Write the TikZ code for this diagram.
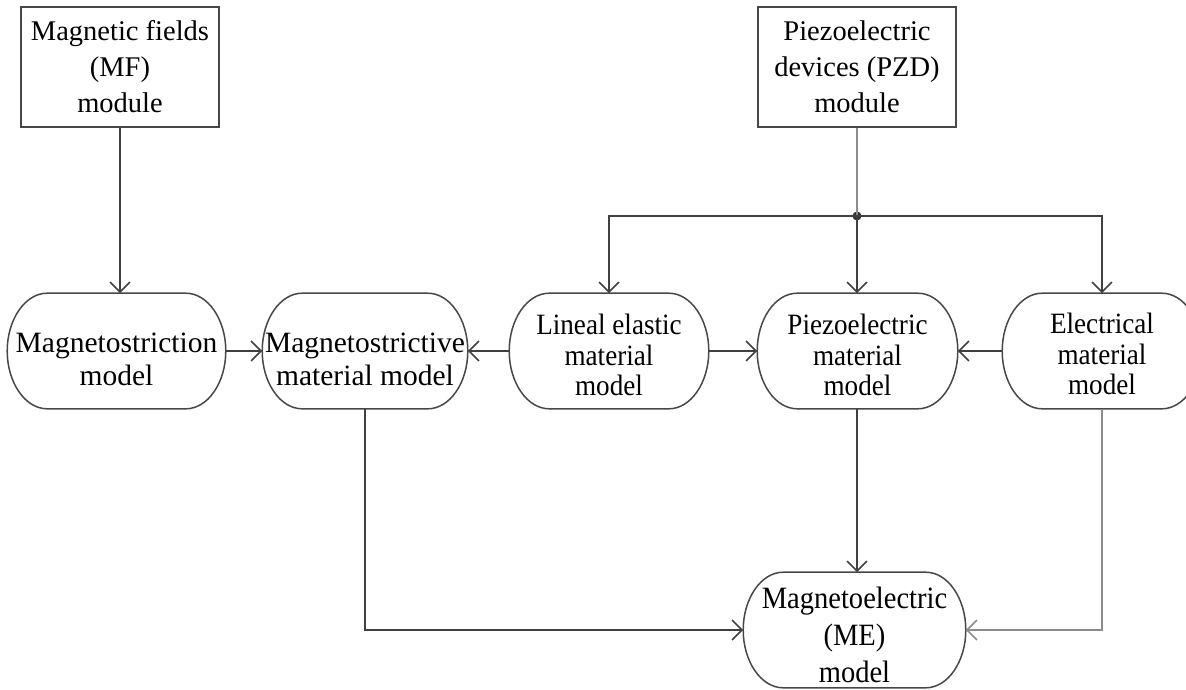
\documentclass[tikz,border=0pt]{standalone}
\usepackage{fontspec}
\setmainfont{Liberation Serif}
\newfontfamily\narrowserif[FakeStretch=0.92]{Liberation Serif}
\usetikzlibrary{arrows.meta}
% text block lowered by #1 without changing its claimed size
\newcommand\lowtext[2]{\raisebox{-#1}[\height][\depth]{\begin{tabular}{@{}c@{}}#2\end{tabular}}}
% elliptical-ended outline around a named node (x radius 40pt, y radius 57pt)
\newcommand\stadiumoutline[1]{%
  \draw[shapeline]
    ([xshift=40pt]#1.north west) -- ([xshift=-40pt]#1.north east)
    .. controls ([xshift=-17.9pt]#1.north east) and ([yshift=31.5pt]#1.east) .. (#1.east)
    .. controls ([yshift=-31.5pt]#1.east) and ([xshift=-17.9pt]#1.south east) .. ([xshift=-40pt]#1.south east)
    -- ([xshift=40pt]#1.south west)
    .. controls ([xshift=17.9pt]#1.south west) and ([yshift=-31.5pt]#1.west) .. (#1.west)
    .. controls ([yshift=31.5pt]#1.west) and ([xshift=17.9pt]#1.north west) .. ([xshift=40pt]#1.north west)
    -- cycle;}
\begin{document}
\begin{tikzpicture}[x=1pt,y=-1pt,
  line width=1.6pt,
  shapeline/.style={draw=black!72, line width=1.5pt},
  boxnode/.style={draw=black!72, rectangle, minimum width=198pt, minimum height=120pt,
    align=center, inner sep=0pt, font=\fontsize{28.5}{36}\selectfont},
  modelnode/.style={draw=none, rectangle, minimum height=114pt,
    inner sep=0pt, font=\fontsize{29.5}{33}\selectfont},
  narrownode/.style={modelnode, font=\narrowserif\fontsize{29.5}{30.5}\selectfont},
  conn/.style={draw=black!75, -{Straight Barb[length=10pt,width=20pt]}},
  lightline/.style={draw=black!45}
]
\clip (0,0) rectangle (1186,689);
\fill[white] (0,0) rectangle (1186,689);

% top boxes
\node[boxnode] (MF) at (120,67) {Magnetic fields\\(MF)\\module};
\node[boxnode] (PZD) at (857,67) {Piezoelectric\\devices (PZD)\\module};

% row of models
\node[modelnode, minimum width=217pt] (MS) at (116.5,351) {\lowtext{11pt}{Magnetostriction\\model}};
\node[modelnode, minimum width=204pt] (MSV) at (365,351) {\lowtext{11pt}{Magnetostrictive\\material model}};
\node[narrownode, minimum width=198pt] (LE) at (609,351) {\lowtext{8pt}{Lineal elastic\\material\\model}};
\node[narrownode, minimum width=199pt] (PZ) at (857.5,351) {\lowtext{8pt}{Piezoelectric\\material\\model}};
\node[narrownode, minimum width=198pt] (EL) at (1102,351) {\lowtext{7pt}{Electrical\\material\\model}};

% bottom
\node[narrownode, minimum width=221pt, font=\narrowserif\fontsize{31}{37}\selectfont] (ME) at (854.5,630) {\lowtext{8pt}{Magnetoelectric\\(ME)\\model}};

\stadiumoutline{MS}
\stadiumoutline{MSV}
\stadiumoutline{LE}
\stadiumoutline{PZ}
\stadiumoutline{EL}
\stadiumoutline{ME}

% junction
\coordinate (J) at (857,216);
\fill[black!80] (J) circle (4.5pt);

% connectors
\draw[conn] (MF.south) -- (MF.south |- MS.north);
\draw[lightline] (PZD.south) -- (J);
\draw[conn] (J) -| (LE.north);
\draw[conn] (J) -- (J |- PZ.north);
\draw[conn] (J) -| (EL.north);
\draw[conn] (MS.east) -- (MSV.west);
\draw[conn] (LE.west) -- (MSV.east);
\draw[conn] (LE.east) -- (PZ.west);
\draw[conn] (EL.west) -- (PZ.east);
\draw[conn] (J |- PZ.south) -- (J |- ME.north);
\draw[conn] (MSV.south) |- (ME.west);
\draw[conn, draw=black!45] (EL.south) |- (ME.east);
\end{tikzpicture}
\end{document}
